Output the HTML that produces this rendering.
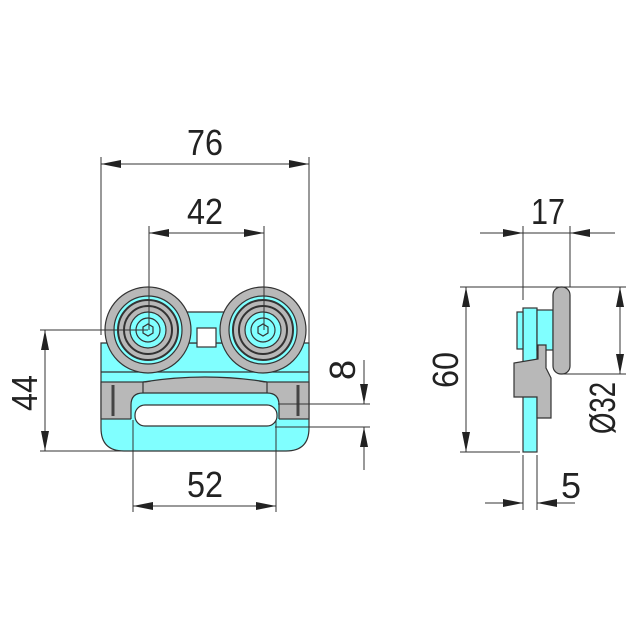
<!DOCTYPE html>
<html><head><meta charset="utf-8"><style>html,body{margin:0;padding:0;background:#fff}svg{display:block}</style></head>
<body>
<svg width="640" height="640" viewBox="0 0 640 640" xmlns="http://www.w3.org/2000/svg">
<defs>
<marker id="a" viewBox="0 0 20 8" refX="20" refY="4" markerWidth="20" markerHeight="8" markerUnits="userSpaceOnUse" orient="auto-start-reverse"><path d="M0,0 L20,4 L0,8 Z" fill="#222"/></marker>
</defs>
<g stroke="#333" stroke-width="1.2" fill="none">
<path d="M101,343 H309 V428 Q309,451 286,451 H124 Q101,451 101,428 Z" fill="#80ffff"/>
<path d="M140,312 H270 V343 H140 Z" fill="#80ffff"/>
<line x1="101" y1="372" x2="309" y2="372"/>
<rect x="101" y="382" width="208" height="37" fill="#b8b8b8"/>
<path d="M143,383 Q205,371 267,383 Z" fill="#b8b8b8" stroke="none"/>
<path d="M143,382 Q205,372 267,382" fill="none"/>
<line x1="143" y1="382" x2="143" y2="393"/>
<line x1="267" y1="382" x2="267" y2="393"/>
<path d="M131,420 V405 Q131,393 143,393 H267 Q279,393 279,405 V420 Z" fill="#80ffff" stroke="none"/>
<path d="M131,419 V405 Q131,393 143,393 H267 Q279,393 279,405 V419" fill="none"/>
<rect x="135" y="405" width="142" height="21" rx="10" fill="#fff"/>
<line x1="113" y1="385" x2="113" y2="416" stroke="#444" stroke-width="3"/>
<line x1="298" y1="385" x2="298" y2="416" stroke="#444" stroke-width="3"/>
<rect x="197" y="328" width="19" height="19" fill="#fff"/>
<g>
<circle cx="148" cy="330" r="43" fill="#b8b8b8"/>
<circle cx="148" cy="330" r="34" fill="#80ffff"/>
<circle cx="148" cy="330" r="30" fill="#b8b8b8" stroke-width="2"/>
<circle cx="148" cy="330" r="24" fill="#b8b8b8" stroke-width="2"/>
<circle cx="148" cy="330" r="18" fill="#80ffff"/>
<circle cx="148" cy="330" r="12" fill="#80ffff"/>
<path d="M148,324 L153,327 V333 L148,336 L143,333 V327 Z" fill="#80ffff"/>
</g>
<g transform="translate(115,0)">
<circle cx="148" cy="330" r="43" fill="#b8b8b8"/>
<circle cx="148" cy="330" r="34" fill="#80ffff"/>
<circle cx="148" cy="330" r="30" fill="#b8b8b8" stroke-width="2"/>
<circle cx="148" cy="330" r="24" fill="#b8b8b8" stroke-width="2"/>
<circle cx="148" cy="330" r="18" fill="#80ffff"/>
<circle cx="148" cy="330" r="12" fill="#80ffff"/>
<path d="M148,324 L153,327 V333 L148,336 L143,333 V327 Z" fill="#80ffff"/>
</g>
<rect x="523" y="308" width="14" height="144" fill="#80ffff"/>
<rect x="517" y="312" width="6" height="37" fill="#80ffff"/>
<rect x="537" y="310" width="16" height="40" fill="#80ffff"/>
<rect x="553" y="287" width="17" height="87" rx="8" fill="#b8b8b8"/>
<path d="M538,345 H546 V368 L551,378 V418 H537 V397 H514 V363 L538,359 Z" fill="#b8b8b8"/>
</g>
<g stroke="#333" stroke-width="1" fill="none">
<line x1="101" y1="157" x2="101" y2="335"/>
<line x1="309" y1="157" x2="309" y2="350"/>
<line x1="101" y1="164" x2="309" y2="164" marker-start="url(#a)" marker-end="url(#a)"/>
<line x1="149" y1="226" x2="149" y2="330"/>
<line x1="264" y1="226" x2="264" y2="330"/>
<line x1="149" y1="233" x2="264" y2="233" marker-start="url(#a)" marker-end="url(#a)"/>
<line x1="40" y1="330" x2="148" y2="330"/>
<line x1="40" y1="451" x2="130" y2="451"/>
<line x1="45" y1="330" x2="45" y2="451" marker-start="url(#a)" marker-end="url(#a)"/>
<line x1="133" y1="420" x2="133" y2="512"/>
<line x1="276" y1="420" x2="276" y2="512"/>
<line x1="133" y1="506" x2="276" y2="506" marker-start="url(#a)" marker-end="url(#a)"/>
<line x1="278" y1="404" x2="370" y2="404"/>
<line x1="275" y1="427" x2="370" y2="427"/>
<line x1="364" y1="360" x2="364" y2="404" marker-end="url(#a)"/>
<line x1="364" y1="470" x2="364" y2="427" marker-end="url(#a)"/>
<line x1="523" y1="226" x2="523" y2="300"/>
<line x1="570" y1="226" x2="570" y2="287"/>
<line x1="480" y1="233" x2="523" y2="233" marker-end="url(#a)"/>
<line x1="615" y1="233" x2="570" y2="233" marker-end="url(#a)"/>
<line x1="523" y1="233" x2="570" y2="233"/>
<line x1="460" y1="287" x2="626" y2="287"/>
<line x1="460" y1="452" x2="520" y2="452"/>
<line x1="466" y1="287" x2="466" y2="452" marker-start="url(#a)" marker-end="url(#a)"/>
<line x1="560" y1="374" x2="626" y2="374"/>
<line x1="620" y1="287" x2="620" y2="374" marker-start="url(#a)" marker-end="url(#a)"/>
<line x1="523" y1="455" x2="523" y2="510"/>
<line x1="537" y1="455" x2="537" y2="510"/>
<line x1="485" y1="503" x2="523" y2="503" marker-end="url(#a)"/>
<line x1="575" y1="503" x2="537" y2="503" marker-end="url(#a)"/>
</g>
<g font-family="Liberation Sans, sans-serif" font-size="36" fill="#222" text-anchor="middle">
<text x="205" y="155" textLength="36" lengthAdjust="spacingAndGlyphs">76</text>
<text x="205" y="224" textLength="36" lengthAdjust="spacingAndGlyphs">42</text>
<text x="205" y="497" textLength="36" lengthAdjust="spacingAndGlyphs">52</text>
<text x="548" y="224" textLength="34" lengthAdjust="spacingAndGlyphs">17</text>
<text x="571" y="498">5</text>
<text transform="translate(37,393) rotate(-90)" textLength="36" lengthAdjust="spacingAndGlyphs">44</text>
<text transform="translate(355,370) rotate(-90)">8</text>
<text transform="translate(458,370) rotate(-90)" textLength="36" lengthAdjust="spacingAndGlyphs">60</text>
<text transform="translate(615,408) rotate(-90)" textLength="52" lengthAdjust="spacingAndGlyphs">Ø32</text>
</g>
</svg>
</body></html>
